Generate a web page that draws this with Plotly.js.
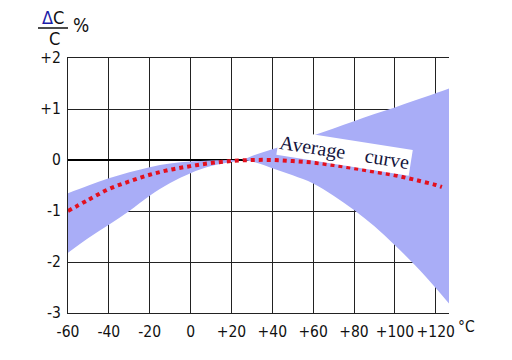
<!DOCTYPE html>
<html><head><meta charset="utf-8">
<script src="https://cdn.plot.ly/plotly-3.0.1.min.js"></script>
<style>body{margin:0;background:#fff}#c{width:512px;height:360px}</style>
</head><body><div id="c"></div>
<script>
// Band (tolerance range) bounds
const bandX     = [-60, -50, -40, -30, -20, -10, 0, 10, 20, 25, 30, 40, 50, 60, 70, 80, 90, 100, 110, 120, 127];
const bandUpper = [-0.65, -0.5, -0.36, -0.24, -0.14, -0.07, -0.03, -0.01, 0, 0, 0.08, 0.21, 0.34, 0.48, 0.62, 0.76, 0.9, 1.03, 1.17, 1.31, 1.41];
const bandLower = [-1.82, -1.53, -1.27, -1.0, -0.7, -0.45, -0.26, -0.12, -0.04, 0, -0.03, -0.16, -0.3, -0.46, -0.7, -0.98, -1.3, -1.67, -2.07, -2.51, -2.84];
// Average curve
const avgX = [-60, -50, -40, -30, -20, -10, 0, 10, 20, 30, 40, 50, 60, 70, 80, 90, 100, 110, 120, 123];
const avgY = [-1.0, -0.78, -0.57, -0.42, -0.29, -0.19, -0.12, -0.06, -0.02, 0, 0, -0.02, -0.05, -0.1, -0.16, -0.23, -0.3, -0.39, -0.49, -0.53];
// Tick labels
const xTickVals = [-60, -40, -20, 0, 20, 40, 60, 80, 100, 120];
const xTickText = ['-60', '-40', '-20', '0', '+20', '+40', '+60', '+80', '+100', '+120'];
const yTickVals = [2, 1, 0, -1, -2, -3];
const yTickText = ['+2', '+1', '0', '-1', '-2', '-3'];

const bandColor = '#a9adf7';
const sansFam = 'DejaVu Sans Condensed, sans-serif';
const tickFont = {family: sansFam, size: 15.5, color: '#111'};

const traces = [
  {x: bandX, y: bandLower, mode: 'lines', line: {width: 0, color: bandColor, shape: 'spline'}, hoverinfo: 'skip', showlegend: false},
  {x: bandX, y: bandUpper, mode: 'lines', line: {width: 0, color: bandColor, shape: 'spline'}, fill: 'tonexty', fillcolor: bandColor, hoverinfo: 'skip', showlegend: false},
  {x: avgX, y: avgY, mode: 'lines', line: {color: '#e3101e', width: 4, dash: 'dot', shape: 'spline'}, showlegend: false}
];

const px = v => (v - 68) / 381;   // helper: pixel -> paper x
const py = v => (313 - v) / 255;  // helper: pixel -> paper y

const layout = {
  width: 512, height: 360,
  margin: {l: 68, r: 63, t: 58, b: 47},
  paper_bgcolor: '#fff', plot_bgcolor: '#fff',
  showlegend: false,
  xaxis: {
    range: [-60, 126.5], tickvals: xTickVals, ticktext: xTickText, tickangle: 0,
    showgrid: true, gridcolor: '#222', gridwidth: 1,
    zeroline: false, showline: true, linecolor: '#222', linewidth: 1, mirror: true,
    ticks: '', tickfont: tickFont, ticklabelstandoff: 4
  },
  yaxis: {
    range: [-3, 2], tickvals: yTickVals, ticktext: yTickText,
    showgrid: true, gridcolor: '#222', gridwidth: 1,
    zeroline: true, zerolinecolor: '#000', zerolinewidth: 2.5,
    showline: true, linecolor: '#222', linewidth: 1,
    ticks: '', tickfont: tickFont, ticklabelstandoff: 3
  },
  annotations: [
    {xref: 'x', yref: 'y', x: 75.5, y: 0.14, text: 'Average&nbsp;&nbsp;&nbsp;&nbsp;curve', showarrow: false,
     textangle: 9, bgcolor: '#fff', borderpad: 1,
     font: {family: 'Liberation Serif, DejaVu Serif, serif', size: 20, color: '#14143c'}},
    {xref: 'paper', yref: 'paper', x: px(467), y: py(327), xanchor: 'center', yanchor: 'middle', text: '°C', showarrow: false, font: tickFont},
    {xref: 'paper', yref: 'paper', x: px(53), y: py(18), xanchor: 'center', yanchor: 'middle', showarrow: false,
     text: '<span style="color:#1c1ca8">Δ</span>C', font: {family: sansFam, size: 18, color: '#111'}},
    {xref: 'paper', yref: 'paper', x: px(54), y: py(38), xanchor: 'center', yanchor: 'middle', showarrow: false,
     text: 'C', font: {family: sansFam, size: 18, color: '#111'}},
    {xref: 'paper', yref: 'paper', x: px(81), y: py(25), xanchor: 'center', yanchor: 'middle', showarrow: false,
     text: '%', font: {family: sansFam, size: 19, color: '#111'}}
  ],
  shapes: [
    {type: 'line', xref: 'paper', yref: 'paper', x0: px(38), x1: px(68), y0: py(28), y1: py(28), line: {color: '#111', width: 1.5}}
  ]
};
Plotly.newPlot('c', traces, layout, {staticPlot: true});
</script>
</body></html>
